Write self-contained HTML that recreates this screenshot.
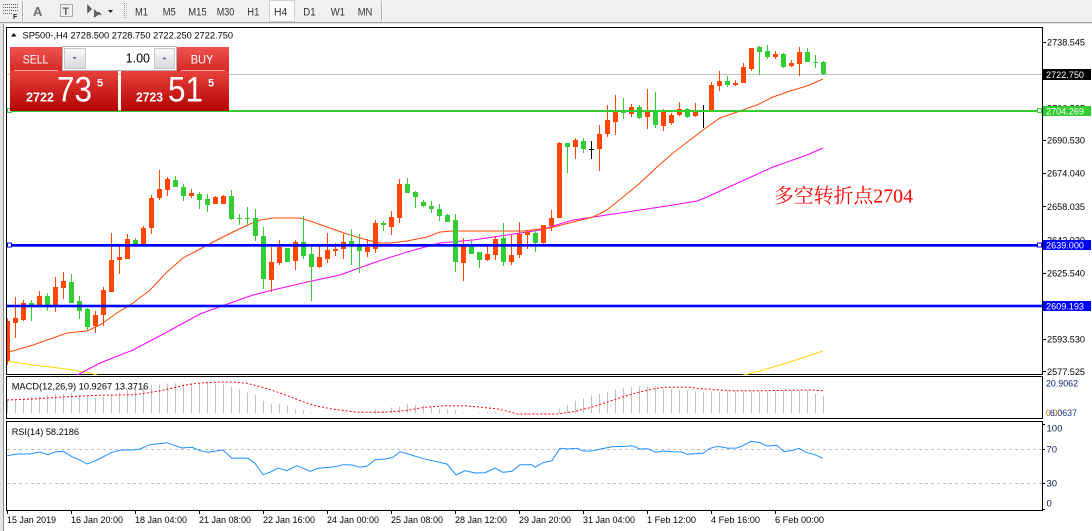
<!DOCTYPE html>
<html><head><meta charset="utf-8"><style>
html,body{margin:0;padding:0;background:#fff;overflow:hidden;width:1092px;height:531px}
svg{display:block;font-family:"Liberation Sans",Arial,sans-serif}
</style></head><body>
<svg width="1092" height="531" viewBox="0 0 1092 531" xmlns="http://www.w3.org/2000/svg">
<defs>
<linearGradient id="hdr" x1="0" y1="0" x2="0" y2="1"><stop offset="0" stop-color="#ef5350"/><stop offset="1" stop-color="#d42a26"/></linearGradient>
<linearGradient id="pr" x1="0" y1="0" x2="0" y2="1"><stop offset="0" stop-color="#e8413c"/><stop offset="1" stop-color="#b30404"/></linearGradient>
<linearGradient id="btn" x1="0" y1="0" x2="0" y2="1"><stop offset="0" stop-color="#fbfbfb"/><stop offset="1" stop-color="#d8d8d8"/></linearGradient>
<clipPath id="cm"><rect x="7" y="28" width="1035" height="347"/></clipPath>
<clipPath id="cmacd"><rect x="7" y="377" width="1035" height="41"/></clipPath>
<clipPath id="crsi"><rect x="7" y="422" width="1035" height="88"/></clipPath>
</defs>
<rect width="1092" height="531" fill="#fff"/>
<!-- toolbar -->
<rect x="0" y="0" width="1092" height="22" fill="#f0f0f0"/>
<line x1="0" y1="22.5" x2="1092" y2="22.5" stroke="#a0a0a0"/>
<line x1="0" y1="23.5" x2="1092" y2="23.5" stroke="#e3e3e3"/>
<g stroke="#555" stroke-dasharray="1,1">
<line x1="3" y1="4.5" x2="19" y2="4.5"/><line x1="3" y1="7.5" x2="19" y2="7.5"/><line x1="3" y1="10.5" x2="19" y2="10.5"/><line x1="3" y1="13.5" x2="12" y2="13.5"/>
</g>
<text x="13" y="19" font-size="7" font-weight="bold" fill="#222">F</text>
<line x1="22.5" y1="1" x2="22.5" y2="21" stroke="#b0b0b0"/><line x1="23.5" y1="1" x2="23.5" y2="21" stroke="#fff"/>
<text x="33" y="16" font-size="13" font-weight="bold" fill="#707070">A</text>
<rect x="60.5" y="4.5" width="12" height="12" fill="none" stroke="#666" stroke-dasharray="1,1"/>
<text x="62.5" y="15" font-size="11" font-weight="bold" fill="#666">T</text>
<path d="M88 6l3 3-3 3zM94 10l4 4-4 3M98 12l3 3" stroke="#555" fill="#666" stroke-width="1.5"/>
<path d="M108 10h5l-2.5 3z" fill="#222"/>
<line x1="124.5" y1="3" x2="124.5" y2="19" stroke="#888" stroke-dasharray="1,1"/>
<line x1="126.5" y1="3" x2="126.5" y2="19" stroke="#bbb" stroke-dasharray="1,1"/>
<rect x="269.5" y="0.5" width="25" height="21" fill="#fafafa" stroke="#d0d0d0"/>
<g font-size="11" fill="#333">
<text x="135" y="15.5" textLength="13" lengthAdjust="spacingAndGlyphs">M1</text>
<text x="162.7" y="15.5" textLength="13" lengthAdjust="spacingAndGlyphs">M5</text>
<text x="188.3" y="15.5" textLength="18.4" lengthAdjust="spacingAndGlyphs">M15</text>
<text x="216.7" y="15.5" textLength="17.6" lengthAdjust="spacingAndGlyphs">M30</text>
<text x="247.3" y="15.5" textLength="12" lengthAdjust="spacingAndGlyphs">H1</text>
<text x="274" y="15.5" textLength="13.3" lengthAdjust="spacingAndGlyphs">H4</text>
<text x="303.3" y="15.5" textLength="12.4" lengthAdjust="spacingAndGlyphs">D1</text>
<text x="330.7" y="15.5" textLength="14.3" lengthAdjust="spacingAndGlyphs">W1</text>
<text x="357.7" y="15.5" textLength="14.6" lengthAdjust="spacingAndGlyphs">MN</text>
</g>
<line x1="381.5" y1="1" x2="381.5" y2="21" stroke="#b0b0b0"/><line x1="382.5" y1="1" x2="382.5" y2="21" stroke="#fff"/>
<!-- left window frame -->
<rect x="0" y="24" width="3" height="507" fill="#e4e4e4"/>
<line x1="3.5" y1="24" x2="3.5" y2="531" stroke="#8a8a8a"/>
<!-- panel frames -->
<rect x="6.5" y="27.5" width="1036" height="347" fill="none" stroke="#000"/>
<rect x="6.5" y="376.5" width="1036" height="42" fill="none" stroke="#000"/>
<rect x="6.5" y="421.5" width="1036" height="89" fill="none" stroke="#000"/>

<!-- main chart -->
<g clip-path="url(#cm)">
<line x1="7" y1="74.5" x2="1042" y2="74.5" stroke="#c0c0c0"/>
<g fill="none" stroke-width="1">
<path d="M7 361L33 365L67 369L90 373L100 376M740 376L760 371L790 362L823 351" stroke="#ffd700"/>
<path d="M75 376L83 372L100 363L133 350L167 332L200 314L233 302L253 295L273 290L307 282L340 275L373 263L407 252L440 243L473 240L507 235L540 230L573 220L607 215L640 210L673 205L697 201L707 197L740 182L773 167L807 155L823 148" stroke="#ff00ff"/>
<path d="M7 352.7L33 345L67 333L87 331L100 325L117 313L133 303L150 290L167 272L183 258L200 249L217 240L233 232L250 224L260 220L273 218L300 218L310 221L327 227L347 234L367 240L380 243L390 243L407 241L427 237L440 232L453 231L483 231L507 231L523 231L540 229L550 228L573 222L593 217L607 210L623 197L640 183L657 167L673 153L690 140L707 127L720 118L740 111L757 105L773 97L790 91L807 86L823 79" stroke="#ff4500"/>
</g>
<path stroke="#ff4500" fill="none" d="M7.5 318V365M15.5 297V338M23.5 300V321M39.5 291V307M55.5 277V312M63.5 272V299M95.5 311V333M103.5 287V326M111.5 233V292M119.5 244V274M127.5 234V259M143.5 226V246M151.5 195V234M159.5 170V200M167.5 177V196M191.5 189V198M215.5 196V204M223.5 195V204M271.5 247V292M279.5 240V265M295.5 240V270M319.5 244V268M327.5 233V263M335.5 243V256M343.5 234V259M367.5 239V257M375.5 220V253M391.5 211V235M399.5 179V223M463.5 238V281M487.5 244V261M495.5 236V260M511.5 235V265M519.5 222V258M527.5 230V249M543.5 225V246M551.5 210V231M559.5 142V218M575.5 138V159M599.5 125V171M607.5 105V137M615.5 95V135M631.5 104V117M647.5 89V129M663.5 109V131M671.5 113V125M679.5 102V116M695.5 103V117M711.5 82V111M719.5 71V91M735.5 80V86M743.5 63V83M751.5 48V71M775.5 51V59M791.5 60V67M799.5 47V76"/>
<path fill="#ff4500" d="M5 321h5v40h-5zM13 318h5v5h-5zM21 303h5v17h-5zM37 296h5v10h-5zM53 287h5v19h-5zM61 281h5v7h-5zM93 315h5v11h-5zM101 290h5v25h-5zM109 260h5v32h-5zM117 257h5v3h-5zM125 239h5v20h-5zM141 228h5v17h-5zM149 198h5v30h-5zM157 189h5v9h-5zM165 179h5v11h-5zM189 193h5v3h-5zM213 197h5v7h-5zM221 196h5v8h-5zM269 262h5v18h-5zM277 247h5v16h-5zM293 242h5v19h-5zM317 257h5v10h-5zM325 250h5v9h-5zM333 249h5v2h-5zM341 242h5v7h-5zM365 247h5v5h-5zM373 223h5v26h-5zM389 217h5v10h-5zM397 184h5v34h-5zM461 244h5v19h-5zM485 254h5v6h-5zM493 239h5v16h-5zM509 255h5v7h-5zM517 234h5v21h-5zM525 232h5v3h-5zM541 225h5v18h-5zM549 218h5v8h-5zM557 143h5v75h-5zM573 140h5v7h-5zM597 134h5v15h-5zM605 120h5v14h-5zM613 112h5v10h-5zM629 107h5v7h-5zM645 110h5v7h-5zM661 112h5v14h-5zM669 115h5v8h-5zM677 109h5v6h-5zM693 111h5v5h-5zM709 85h5v26h-5zM717 81h5v5h-5zM733 83h5v2h-5zM741 67h5v16h-5zM749 48h5v21h-5zM773 54h5v3h-5zM789 63h5v3h-5zM797 52h5v12h-5z"/>
<path stroke="#32cd32" fill="none" d="M31.5 300V321M47.5 293V311M71.5 274V303M79.5 296V319M87.5 308V330M135.5 238V247M175.5 176V187M183.5 184V201M199.5 192V209M207.5 194V212M231.5 190V220M239.5 214V225M247.5 207V225M255.5 209V241M263.5 227V289M287.5 248V262M303.5 216V259M311.5 246V301M351.5 229V265M359.5 234V273M383.5 221V231M407.5 178V193M415.5 191V208M423.5 200V207M431.5 201V213M439.5 204V221M447.5 214V222M455.5 214V272M471.5 239V254M479.5 252V268M503.5 223V266M535.5 230V252M567.5 143V173M583.5 138V153M623.5 98V119M639.5 105V119M655.5 92V128M687.5 108V118M727.5 76V87M759.5 46V75M767.5 45V59M783.5 53V68M807.5 48V62M815.5 55V68M823.5 61V75"/>
<path fill="#32cd32" d="M29 303h5v3h-5zM45 296h5v10h-5zM69 282h5v21h-5zM77 301h5v10h-5zM85 309h5v18h-5zM133 240h5v4h-5zM173 180h5v7h-5zM181 187h5v9h-5zM197 194h5v6h-5zM205 199h5v6h-5zM229 196h5v23h-5zM237 218h5v1h-5zM245 218h5v1h-5zM253 218h5v18h-5zM261 236h5v43h-5zM285 248h5v14h-5zM301 242h5v14h-5zM309 254h5v13h-5zM349 241h5v4h-5zM357 246h5v5h-5zM381 223h5v2h-5zM405 184h5v9h-5zM413 192h5v5h-5zM421 202h5v4h-5zM429 206h5v3h-5zM437 209h5v7h-5zM445 215h5v7h-5zM453 220h5v42h-5zM469 244h5v10h-5zM477 252h5v8h-5zM501 238h5v24h-5zM533 233h5v10h-5zM565 143h5v4h-5zM581 141h5v8h-5zM621 111h5v2h-5zM637 107h5v11h-5zM653 111h5v14h-5zM685 109h5v8h-5zM725 81h5v4h-5zM757 47h5v5h-5zM765 51h5v6h-5zM781 54h5v13h-5zM805 52h5v10h-5zM813 62h5v1h-5zM821 62h5v12h-5z"/>
<path stroke="#000" fill="none" d="M591.5 141V159M703.5 105V128"/>
<path fill="#000" d="M589 149h5v1h-5zM701 111h5v1h-5z"/>
<!-- horizontal lines -->
<rect x="7" y="110" width="1035" height="2" fill="#32cd32"/>
<rect x="7" y="244" width="1035" height="2.7" fill="#0000ff"/>
<rect x="7" y="304.7" width="1035" height="2.6" fill="#0000ff"/>
<rect x="1037.5" y="108.5" width="4" height="4" fill="#fff" stroke="#32cd32"/>
<rect x="1037.5" y="243" width="4" height="4" fill="#fff" stroke="#0000ff"/>
<rect x="7.5" y="243" width="4" height="4" fill="#fff" stroke="#0000ff"/>
<rect x="7.5" y="108.5" width="4" height="4" fill="#fff" stroke="#32cd32"/>
<text x="774" y="202.5" font-size="20" fill="#ff0000" font-family="'Liberation Serif','Noto Serif CJK SC',serif" textLength="139" lengthAdjust="spacingAndGlyphs">多空转折点2704</text>
</g>
<!-- title -->
<path d="M11 36.5h5.5l-2.75-3.5z" fill="#000"/>
<text x="22.5" y="38.3" font-size="9.5" fill="#000" textLength="210.6" lengthAdjust="spacingAndGlyphs">SP500-,H4  2728.500 2728.750 2722.250 2722.750</text>

<!-- trade panel -->
<rect x="62.5" y="46.5" width="114" height="24" fill="#fff" stroke="#b4b4b4"/>
<rect x="64.5" y="48.5" width="21" height="20" fill="url(#btn)" stroke="#c6c6c6"/>
<rect x="154.5" y="48.5" width="20" height="20" fill="url(#btn)" stroke="#c6c6c6"/>
<path d="M72.3 57h4.4l-2.2 2.3z" fill="#5566aa"/>
<path d="M162.3 59.3h4.4l-2.2-2.3z" fill="#5566aa"/>
<text x="150" y="62.5" font-size="12.5" fill="#000" text-anchor="end">1.00</text>
<rect x="10" y="47" width="52" height="24" fill="url(#hdr)"/>
<rect x="177" y="47" width="52" height="24" fill="url(#hdr)"/>
<line x1="14" y1="70.5" x2="58" y2="70.5" stroke="#f4a6a4"/>
<line x1="181" y1="70.5" x2="225" y2="70.5" stroke="#f4a6a4"/>
<text x="22.7" y="63.3" font-size="12" fill="#fff" textLength="25.7" lengthAdjust="spacingAndGlyphs">SELL</text>
<text x="190.7" y="63.3" font-size="12" fill="#fff" textLength="22.7" lengthAdjust="spacingAndGlyphs">BUY</text>
<rect x="10" y="71" width="108" height="40" fill="url(#pr)"/>
<rect x="121" y="71" width="108" height="40" fill="url(#pr)"/>
<g fill="#fff">
<text x="26" y="101.7" font-size="13" font-weight="bold" textLength="28" lengthAdjust="spacingAndGlyphs">2722</text>
<text x="57" y="101.7" font-size="35" textLength="35" lengthAdjust="spacingAndGlyphs">73</text>
<text x="97" y="86.3" font-size="11" font-weight="bold">5</text>
<text x="136" y="101.7" font-size="13" font-weight="bold" textLength="27" lengthAdjust="spacingAndGlyphs">2723</text>
<text x="168" y="101.7" font-size="35" textLength="35" lengthAdjust="spacingAndGlyphs">51</text>
<text x="208" y="86.3" font-size="11" font-weight="bold">5</text>
</g>

<!-- price axis -->
<g stroke="#000">
<path d="M1042 42.5h4M1042 75.5h4M1042 108.5h4M1042 140.5h4M1042 173.5h4M1042 206.5h4M1042 240.5h4M1042 273.5h4M1042 306.5h4M1042 339.5h4M1042 371.5h4"/>
</g>
<g font-size="9.5" fill="#000">
<text x="1047" y="45.7" textLength="38" lengthAdjust="spacingAndGlyphs">2738.545</text>
<text x="1047" y="78.6" textLength="38" lengthAdjust="spacingAndGlyphs">2722.540</text>
<text x="1047" y="111.6" textLength="38" lengthAdjust="spacingAndGlyphs">2706.535</text>
<text x="1047" y="143.4" textLength="38" lengthAdjust="spacingAndGlyphs">2690.530</text>
<text x="1047" y="176.7" textLength="38" lengthAdjust="spacingAndGlyphs">2674.040</text>
<text x="1047" y="210.1" textLength="38" lengthAdjust="spacingAndGlyphs">2658.035</text>
<text x="1047" y="243.4" textLength="38" lengthAdjust="spacingAndGlyphs">2642.030</text>
<text x="1047" y="276.7" textLength="38" lengthAdjust="spacingAndGlyphs">2625.540</text>
<text x="1047" y="309.2" textLength="38" lengthAdjust="spacingAndGlyphs">2609.535</text>
<text x="1047" y="342.4" textLength="38" lengthAdjust="spacingAndGlyphs">2593.530</text>
<text x="1047" y="375.1" textLength="38" lengthAdjust="spacingAndGlyphs">2577.525</text>
</g>
<rect x="1043" y="69" width="48" height="11" fill="#000"/>
<rect x="1043" y="106" width="48" height="10" fill="#32cd32"/>
<rect x="1043" y="240" width="48" height="10" fill="#0000ff"/>
<rect x="1043" y="301" width="48" height="10" fill="#0000ff"/>
<g font-size="9.5" fill="#fff">
<text x="1046" y="78" textLength="38" lengthAdjust="spacingAndGlyphs">2722.750</text>
<text x="1046" y="114.5" textLength="38" lengthAdjust="spacingAndGlyphs">2704.269</text>
<text x="1046" y="248.5" textLength="38" lengthAdjust="spacingAndGlyphs">2639.000</text>
<text x="1046" y="309.5" textLength="38" lengthAdjust="spacingAndGlyphs">2609.193</text>
</g>

<!-- MACD -->
<g clip-path="url(#cmacd)">
<path stroke="#c0c0c0" fill="none" d="M7.5 413.5V400.2M15.5 413.5V399.2M23.5 413.5V398.2M31.5 413.5V396.8M39.5 413.5V396.2M47.5 413.5V394.8M55.5 413.5V394.2M63.5 413.5V393.5M71.5 413.5V392.8M79.5 413.5V394.2M87.5 413.5V396.8M95.5 413.5V397.5M103.5 413.5V396.8M111.5 413.5V394.2M119.5 413.5V392.5M127.5 413.5V390.2M135.5 413.5V387.5M143.5 413.5V386.8M151.5 413.5V384.8M159.5 413.5V384.2M167.5 413.5V383.5M175.5 413.5V383.2M183.5 413.5V383.5M191.5 413.5V383.2M199.5 413.5V382.5M207.5 413.5V382.8M215.5 413.5V383.5M223.5 413.5V384.2M231.5 413.5V386.5M239.5 413.5V389.2M247.5 413.5V392.5M255.5 413.5V394.8M263.5 413.5V400.8M271.5 413.5V404.2M279.5 413.5V404.2M287.5 413.5V405.8M295.5 413.5V409.2M303.5 413.5V410.2M311.5 413.5V412.5M375.5 413.5V409.2M383.5 413.5V410.2M391.5 413.5V407.5M399.5 413.5V406.2M407.5 413.5V404.2M415.5 413.5V404.8M423.5 413.5V405.2M431.5 413.5V406.5M439.5 413.5V408.5M447.5 413.5V409.2M455.5 413.5V410.2M463.5 413.5V412.5M479.5 413.5V412.5M487.5 413.5V411.8M495.5 413.5V411.5M503.5 413.5V412.5M519.5 413.5V415M527.5 413.5V415M535.5 413.5V412.5M543.5 413.5V412.5M559.5 413.5V408.8M567.5 413.5V404.8M575.5 413.5V400.8M583.5 413.5V398.2M591.5 413.5V395.5M599.5 413.5V393.8M607.5 413.5V392.2M615.5 413.5V389.8M623.5 413.5V388.2M631.5 413.5V387.2M639.5 413.5V386.5M647.5 413.5V386.5M655.5 413.5V386.5M663.5 413.5V388.2M671.5 413.5V388.8M679.5 413.5V389.8M687.5 413.5V390.5M695.5 413.5V391.5M703.5 413.5V391.8M711.5 413.5V391.5M719.5 413.5V391.8M727.5 413.5V390.5M735.5 413.5V390.5M743.5 413.5V390.5M751.5 413.5V390.5M759.5 413.5V390.5M767.5 413.5V390.5M775.5 413.5V390.5M783.5 413.5V390.5M791.5 413.5V390.5M799.5 413.5V390.5M807.5 413.5V390.5M815.5 413.5V393.8M823.5 413.5V395.8"/>
<path stroke="#ff0000" fill="none" stroke-dasharray="2,2" d="M7 400L33 399L67 396.7L100 395.3L133 394.7L147 393L160 390.7L173 388L187 384.7L200 383L220 382L233 382L247 383.3L265 388L278 392.3L292 397.3L302 401.3L315 405.7L332 409L358 412.3L382 412.3L405 410.7L425 407.3L445 405.7L465 405.7L482 407.3L498 409L518 414L535 414L557 414L573 411.7L590 407.7L607 402.3L623 396.7L637 392.7L653 389L663 387.3L690 387.3L697 388.3L730 390.7L763 390.7L810 390L823 390.7"/>
</g>
<text x="11.7" y="389.5" font-size="9.5" fill="#000" textLength="136.6" lengthAdjust="spacingAndGlyphs">MACD(12,26,9) 10.9267 13.3716</text>
<text x="1046" y="386.5" font-size="9.5" fill="#0a1a6a" textLength="32" lengthAdjust="spacingAndGlyphs">20.9062</text>
<text x="1046" y="416.2" font-size="9.5" fill="#c07000" textLength="16" lengthAdjust="spacingAndGlyphs">0.00</text>
<text x="1050" y="416.2" font-size="9.5" fill="#1a3a9a" textLength="27" lengthAdjust="spacingAndGlyphs">6.0637</text>

<!-- RSI -->
<g clip-path="url(#crsi)">
<line x1="7" y1="449.5" x2="1042" y2="449.5" stroke="#c0c0c0" stroke-dasharray="3,3"/>
<line x1="7" y1="483.5" x2="1042" y2="483.5" stroke="#c0c0c0" stroke-dasharray="3,3"/>
<path stroke="#1e90ff" fill="none" d="M7 455.7L17 454L30 454L40 452L48 454.7L55 452L63 451.3L72 456.7L80 460L87 464L97 460L112 452.3L122 450L133 450L140 449L150 444.7L167 442.7L182 448L192 447.3L200 450.7L208 452.3L223 450L232 458.3L248 458.3L255 463.3L263 474.7L270 472.3L278 468L287 470.7L297 465.7L310 471.3L318 468.3L335 466.7L343 464.7L352 465L360 467.3L367 466.3L375 459.7L385 459L393 457.3L400 451.7L408 454L422 458.3L435 461.3L447 464L456 475L465 470.7L475 473L485 472.7L495 468L503 472.3L512 471.3L520 464.7L532 464.7L535 467.3L543 462.7L552 460.7L560 448.3L568 449L577 448.3L583 451L592 451L602 448.7L612 446.7L627 446.3L632 445.7L640 449L648 448.7L656 452.3L663 451L673 451.7L682 452L687 454.3L703 453.3L710 448.3L718 446.3L728 448.3L737 448L743 445.7L751 441.3L760 442.7L767 446L777 445.3L784 451.7L793 450.3L799 448.3L807 452.7L815 454.7L823 458.3"/>
</g>
<text x="11.7" y="435" font-size="9.5" fill="#000" textLength="67.3" lengthAdjust="spacingAndGlyphs">RSI(14) 58.2186</text>
<path stroke="#000" d="M1042 449.5h3M1042 483.5h3M1042 424.5h3M1042 509.5h3"/>
<g font-size="9.5" fill="#101850">
<text x="1046.5" y="431.6">100</text>
<text x="1046.5" y="452.6">70</text>
<text x="1046.5" y="486.6">30</text>
<text x="1046.5" y="506.6">0</text>
</g>

<!-- time axis -->
<path stroke="#000" d="M7.5 510v4M71.5 510v4M135.5 510v4M199.5 510v4M263.5 510v4M327.5 510v4M391.5 510v4M455.5 510v4M519.5 510v4M583.5 510v4M647.5 510v4M711.5 510v4M775.5 510v4"/>
<g font-size="9.5" fill="#000">
<text x="7" y="523" textLength="49" lengthAdjust="spacingAndGlyphs">15 Jan 2019</text>
<text x="71" y="523" textLength="52" lengthAdjust="spacingAndGlyphs">16 Jan 20:00</text>
<text x="135" y="523" textLength="52" lengthAdjust="spacingAndGlyphs">18 Jan 04:00</text>
<text x="199" y="523" textLength="52" lengthAdjust="spacingAndGlyphs">21 Jan 08:00</text>
<text x="263" y="523" textLength="52" lengthAdjust="spacingAndGlyphs">22 Jan 16:00</text>
<text x="327" y="523" textLength="52" lengthAdjust="spacingAndGlyphs">24 Jan 00:00</text>
<text x="391" y="523" textLength="52" lengthAdjust="spacingAndGlyphs">25 Jan 08:00</text>
<text x="455" y="523" textLength="52" lengthAdjust="spacingAndGlyphs">28 Jan 12:00</text>
<text x="519" y="523" textLength="52" lengthAdjust="spacingAndGlyphs">29 Jan 20:00</text>
<text x="583" y="523" textLength="52" lengthAdjust="spacingAndGlyphs">31 Jan 04:00</text>
<text x="647" y="523" textLength="49" lengthAdjust="spacingAndGlyphs">1 Feb 12:00</text>
<text x="711" y="523" textLength="49" lengthAdjust="spacingAndGlyphs">4 Feb 16:00</text>
<text x="775" y="523" textLength="49" lengthAdjust="spacingAndGlyphs">6 Feb 00:00</text>
</g>
</svg>
</body></html>
